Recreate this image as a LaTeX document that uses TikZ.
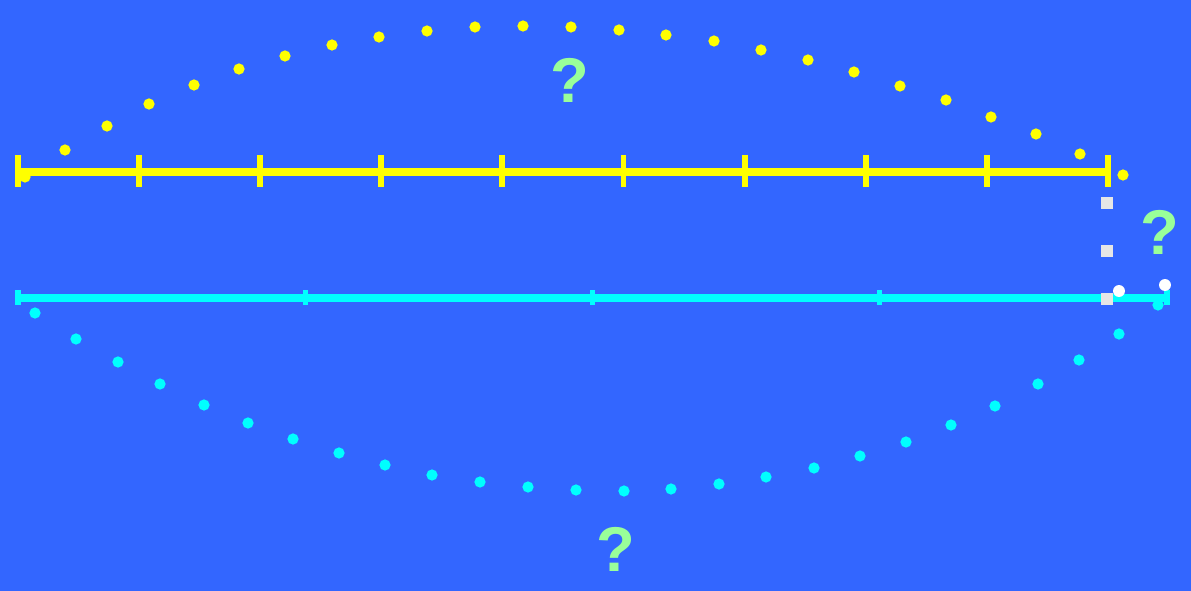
\documentclass[tikz,border=0pt]{standalone}
\usepackage{fontspec}
\setsansfont{Liberation Sans}
\definecolor{bgblue}{RGB}{51,102,255}
\definecolor{jumpyellow}{RGB}{255,255,0}
\definecolor{jumpcyan}{RGB}{0,255,255}
\definecolor{guessgreen}{RGB}{153,255,153}
\definecolor{hopgray}{RGB}{230,230,230}
\usetikzlibrary{positioning}

\begin{document}
\begin{tikzpicture}[x=0.02cm, y=-0.02cm,
  numline/.style={line width=4.4pt},
  bigtick/.style={line width=3.4pt, jumpyellow},
  smalltick/.style={line width=3pt, jumpcyan},
  guess/.style={text=guessgreen, inner sep=0pt, font=\sffamily\bfseries\fontsize{36}{40}\selectfont}]
  \useasboundingbox (0,0) rectangle (1191,591);
  \fill[bgblue] (0,0) rectangle (1191,591);

  % yellow jumps over the top
  \foreach \x/\y in {25/177, 65/150, 107/126, 149/104, 194/85, 239/69, 285/56, 332/45,
                     379/37, 427/31, 475/27, 523/26, 571/27, 619/30, 666/35, 714/41,
                     761/50, 808/60, 854/72, 900/86, 946/100, 991/117, 1036/134, 1080/154, 1123/175}
    \fill[jumpyellow] (\x,\y) circle[radius=3.2pt];
  \draw[numline, jumpyellow] (18,172) -- (1108,172);
  \foreach \i in {0,...,9}
    \draw[bigtick] ({18+121.1*\i},155) -- ({18+121.1*\i},187);

  % cyan jumps underneath
  \draw[numline, jumpcyan] (18,298) -- (1167,298);
  \foreach \i in {0,...,4}
    \draw[smalltick] ({18+287.25*\i},290.5) -- ({18+287.25*\i},305.5);
  \foreach \x/\y in {35/313, 76/339, 118/362, 160/384, 204/405, 248/423, 293/439, 339/453,
                     385/465, 432/475, 480/482, 528/487, 576/490, 624/491, 671/489, 719/484,
                     766/477, 814/468, 860/456, 906/442, 951/425, 995/406, 1038/384, 1079/360,
                     1119/334, 1158/305}
    \fill[jumpcyan] (\x,\y) circle[radius=3.2pt];

  % the gap on the right
  \foreach \y in {203, 251, 299}
    \fill[hopgray] (1101,\y-6) rectangle (1113,\y+6);
  \fill[white] (1119,291) circle[radius=3.4pt];
  \fill[white] (1165,285) circle[radius=3.4pt];

  \node[guess] (guesstop) at (570,80) {?};
  \node[guess] (guessright) at (1160,232) {?};
  \node[guess] (guessbottom) at (616,549) {?};
\end{tikzpicture}
\end{document}
